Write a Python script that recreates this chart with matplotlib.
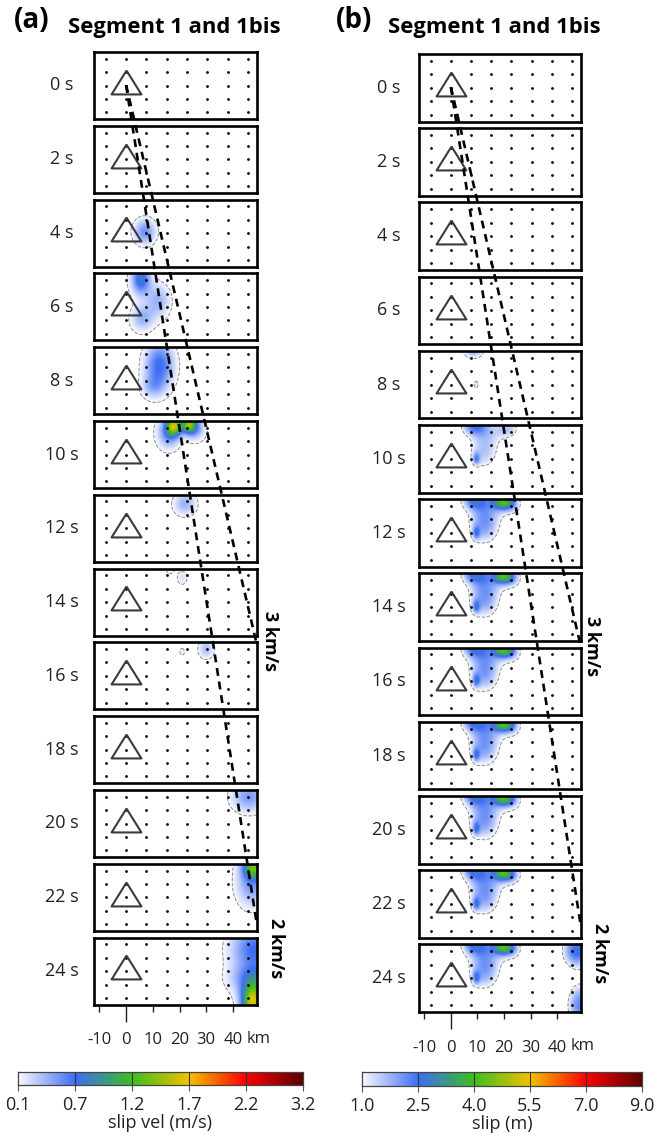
import numpy as np
import matplotlib
matplotlib.use("Agg")
import matplotlib.pyplot as plt
from matplotlib.colors import LinearSegmentedColormap
from matplotlib.transforms import blended_transform_factory

plt.rcParams["font.family"] = ["Open Sans", "DejaVu Sans"]

# ---- data ----
frame_times = [0, 2, 4, 6, 8, 10, 12, 14, 16, 18, 20, 22, 24]       # s
dot_x_km = [-7.6, 0.0, 7.6, 15.2, 22.8, 30.4, 38.0, 45.6]
dot_rows = [0, 1, 2, 3, 4]
station_x_km = 0.0
station_row = 1.72
x_ticks_km = [-10, 0, 10, 20, 30, 40]

front_speeds = [3.0, 2.0]                 # km/s
front_labels = ["3 km/s", "2 km/s"]

vel_levels = [0.1, 0.7, 1.2, 1.7, 2.2, 3.2]     # slip vel (m/s)
slip_levels = [1.0, 2.5, 4.0, 5.5, 7.0, 9.0]    # slip (m)
level_colors = ["#f8f9ff", "#3e6ef4", "#3cbe1f", "#f2c300", "#ff0000", "#5c0000"]

# slip-velocity patches (panel a): frame, x km, row, sx km, s row, peak m/s
vel_patches = [
    (2, 7.0, 1.9, 2.8, 0.65, 0.55),
    (3, 5.5, 0.0, 2.5, 0.8, 0.8),
    (3, 12.0, 1.6, 3.2, 0.9, 0.4),
    (3, 6.0, 2.9, 3.0, 0.7, 0.4),
    (4, 12.5, 0.9, 3.8, 1.2, 0.72),
    (4, 10.0, 2.5, 3.0, 0.6, 0.3),
    (5, 18.0, -0.1, 2.0, 0.5, 1.25),
    (5, 23.5, -0.2, 1.8, 0.45, 1.2),
    (5, 16.0, 0.4, 3.0, 0.8, 0.6),
    (5, 26.0, 0.1, 2.5, 0.6, 0.5),
    (6, 22.0, 0.2, 3.0, 0.6, 0.4),
    (7, 21.0, 0.2, 1.5, 0.4, 0.2),
    (7, 16.5, -0.4, 1.5, 0.3, 0.15),
    (8, 30.0, 0.0, 2.0, 0.5, 0.35),
    (8, 21.0, 0.2, 1.0, 0.3, 0.14),
    (10, 46.0, 0.0, 4.5, 0.8, 0.5),
    (11, 48.0, -0.3, 3.0, 0.6, 1.1),
    (11, 47.0, 1.0, 4.0, 1.2, 0.5),
    (12, 48.0, 0.3, 6.0, 1.2, 0.7),
    (12, 47.5, 4.3, 3.0, 0.9, 1.6),
    (12, 48.0, 2.6, 6.0, 0.8, 0.6),
]

# cumulative slip patches (panel b): onset frame, x km, row, sx km, s row, slip m
slip_patches = [
    (4, 8.5, -0.45, 3.5, 0.5, 1.75),
    (4, 9.5, 2.0, 1.0, 0.35, 1.3),
    (5, 15.0, -0.2, 6.5, 0.8, 0.9),
    (5, 22.0, -0.2, 3.0, 0.5, 1.0),
    (5, 12.5, 1.5, 4.5, 1.1, 1.5),
    (6, 19.5, -0.3, 2.5, 0.35, 2.5),
    (6, 13.0, 1.0, 5.0, 1.3, 0.5),
    (6, 24.0, 0.0, 2.5, 0.6, 0.5),
    (12, 47.5, 0.0, 4.0, 0.9, 2.6),
    (12, 48.5, 4.0, 3.5, 1.2, 2.2),
]

# ---- layout ----
W, H = 657, 1145
XLIM = (-12, 49)
YLIM = (4.5, -0.5)
PX_PER_S = 34.3

cmap = LinearSegmentedColormap.from_list(
    "rupture", list(zip(np.linspace(0, 1, len(level_colors)), level_colors)))

gx = np.linspace(XLIM[0], XLIM[1], 320)
gy = np.linspace(-0.5, 4.5, 130)
GX, GY = np.meshgrid(gx, gy)


def rect(x0, y0, w, h):
    return [x0 / W, 1 - (y0 + h) / H, w / W, h / H]


def field(patches, frame, cumulative):
    f = np.zeros_like(GX)
    for p in patches:
        on = p[0] <= frame if cumulative else p[0] == frame
        if on:
            f += p[5] * np.exp(-0.5 * ((GX - p[1]) / p[3]) ** 2
                               - 0.5 * ((GY - p[2]) / p[4]) ** 2)
    return f


columns = [
    dict(x0=94, y0=52, step=73.8, w=163, h=67, t0=85, tag="(a)", tag_x=14,
         title_x=68, patches=vel_patches, levels=vel_levels, cumulative=False,
         lab_dx=-32, speed_off=[(13, 4), (19, -23)],
         cbar=(18, 1072, 285, 13), clabel="slip vel (m/s)"),
    dict(x0=419, y0=54, step=74.2, w=162, h=67.5, t0=87, tag="(b)", tag_x=336,
         title_x=388, patches=slip_patches, levels=slip_levels, cumulative=True,
         lab_dx=-30, speed_off=[(11, 1), (19, -26)],
         cbar=(362, 1072, 280, 14), clabel="slip (m)"),
]

fig = plt.figure(figsize=(W / 100, H / 100), dpi=100)

for col in columns:
    fig.text(col["tag_x"] / W, 1 - 21 / H, col["tag"], fontsize=20,
             fontweight="bold", va="center", ha="left")
    fig.text(col["title_x"] / W, 1 - 27 / H, "Segment 1 and 1bis", fontsize=15.8,
             fontweight="bold", va="center", ha="left")

    thr = col["levels"][0]
    for k, t in enumerate(frame_times):
        y0 = col["y0"] + k * col["step"]
        ax = fig.add_axes(rect(col["x0"], y0, col["w"], col["h"]))
        ax.set_xlim(*XLIM)
        ax.set_ylim(*YLIM)

        f = field(col["patches"], k, col["cumulative"])
        if f.max() > thr:
            norm = np.interp(f, col["levels"], np.linspace(0, 1, 6))
            rgba = cmap(norm)
            rgba[..., 3] = np.where(f >= thr, 1.0, 0.0)
            ax.imshow(rgba, extent=(XLIM[0], XLIM[1], 4.5, -0.5), origin="upper",
                      aspect="auto", interpolation="bilinear", zorder=1)
            ax.contour(GX, GY, f, levels=[thr], colors="#8c8c8c",
                       linewidths=0.7, linestyles="dashed", zorder=2)

        dx, dy = np.meshgrid(dot_x_km, dot_rows)
        ax.scatter(dx.ravel(), dy.ravel(), s=4, color="black", lw=0, zorder=3)
        ax.plot([station_x_km], [station_row], linestyle="none",
                marker=[(0, 0.8), (-1, -0.8), (1, -0.8), (0, 0.8)], ms=21.5,
                mfc="none", mec="#3a3a3a", mew=1.5, zorder=4)

        for s in ax.spines.values():
            s.set_linewidth(1.9)
        ax.set_yticks([])
        ax.text(col["lab_dx"] / col["w"], 0.5, f"{t} s", transform=ax.transAxes,
                ha="center", va="center", fontsize=13, color="#222222")

        if k == len(frame_times) - 1:
            ax.set_xticks(x_ticks_km)
            ax.set_xticklabels([str(v) for v in x_ticks_km])
            ax.tick_params(axis="x", direction="out", length=5, width=1.0,
                           pad=15, labelsize=12, colors="#222222")
            ax.xaxis.get_major_ticks()[1].tick1line.set_markersize(12)
            ax.annotate("km", xy=(49.5, 0), xycoords=blended_transform_factory(
                ax.transData, ax.transAxes), xytext=(0, -26), textcoords="offset pixels",
                ha="center", va="top", fontsize=12, color="#222222")
        else:
            ax.set_xticks([])

    # rupture-front lines
    bottom = col["y0"] + (len(frame_times) - 1) * col["step"] + col["h"]
    oax = fig.add_axes(rect(col["x0"], col["t0"], col["w"], bottom - col["t0"]))
    oax.set_xlim(*XLIM)
    oax.set_ylim((bottom - col["t0"]) / PX_PER_S, 0)
    oax.axis("off")
    oax.patch.set_alpha(0)
    for v, lab, off in zip(front_speeds, front_labels, col["speed_off"]):
        t_end = XLIM[1] / v
        oax.plot([0, XLIM[1]], [0, t_end], color="black", lw=1.9,
                 linestyle=(0, (3.0, 2.2)), zorder=10)
        oax.annotate(lab, xy=(XLIM[1], t_end), xytext=off, textcoords="offset pixels",
                     rotation=270, ha="center", va="center", fontsize=13,
                     fontweight="bold", annotation_clip=False)

    # colourbar
    cx, cy, cw, ch = col["cbar"]
    cax = fig.add_axes(rect(cx, cy, cw, ch))
    cax.imshow(np.linspace(0, 1, 512)[None, :], cmap=cmap, aspect="auto",
               extent=(0, 5, 0, 1))
    for i in range(1, 5):
        cax.axvline(i, color="#333333", lw=0.8)
    cax.set_xlim(0, 5)
    cax.set_xticks(range(6))
    cax.set_xticklabels([f"{v:.1f}" for v in col["levels"]])
    cax.set_yticks([])
    cax.tick_params(axis="x", length=4, width=0.8, color="#555555", pad=4,
                    labelsize=13, labelcolor="#222222")
    for s in cax.spines.values():
        s.set_linewidth(0.9)
        s.set_color("#444444")
    cax.set_xlabel(col["clabel"], fontsize=13, labelpad=0, color="#222222")

fig.savefig("out.png", dpi=100)
